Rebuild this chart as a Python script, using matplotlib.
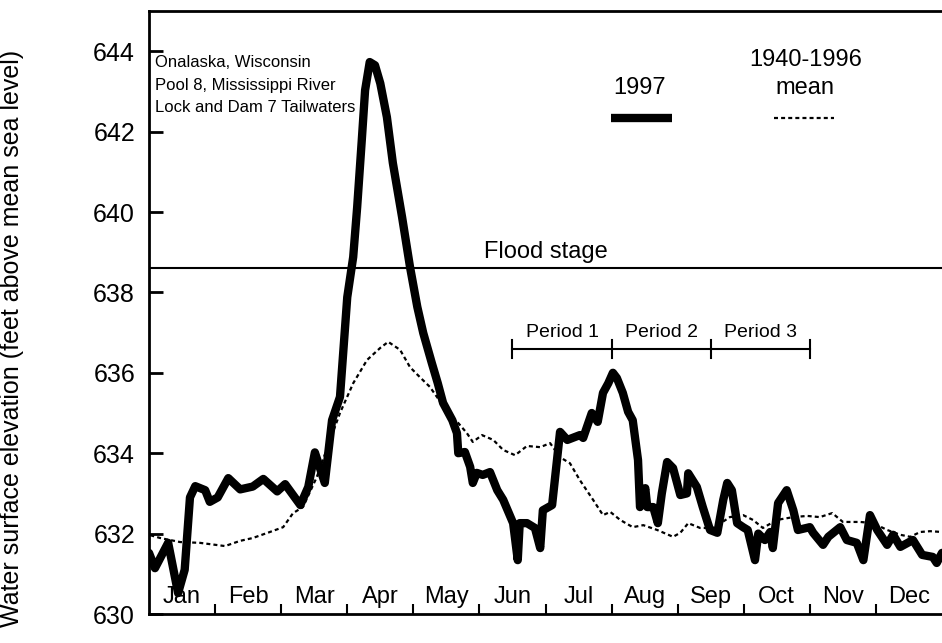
import matplotlib
matplotlib.use("Agg")
import matplotlib.pyplot as plt

plt.rcParams['font.family'] = ['Liberation Sans', 'DejaVu Sans']

# x in months from 1 Jan (equal-width months), y in feet above msl
x_1997 = [0.0, 0.09, 0.29, 0.44, 0.54, 0.62, 0.70, 0.85, 0.92, 1.04, 1.20, 1.38, 1.57, 1.73,
          1.94, 2.06, 2.29, 2.41, 2.51, 2.66, 2.77, 2.89, 3.00, 3.09, 3.15, 3.22, 3.27, 3.34,
          3.42, 3.50, 3.60, 3.69, 3.83, 3.95, 4.06, 4.15, 4.28, 4.37, 4.45, 4.59, 4.66, 4.68,
          4.78, 4.86, 4.90, 4.96, 5.05, 5.16, 5.27, 5.36, 5.51, 5.58, 5.61, 5.72, 5.84, 5.92,
          5.96, 6.10, 6.22, 6.33, 6.52, 6.57, 6.70, 6.79, 6.87, 6.95, 7.02, 7.08, 7.17, 7.25,
          7.32, 7.40, 7.43, 7.51, 7.54, 7.63, 7.70, 7.76, 7.84, 7.93, 8.04, 8.14, 8.16, 8.29,
          8.38, 8.49, 8.60, 8.69, 8.75, 8.82, 8.90, 8.99, 9.06, 9.17, 9.22, 9.32, 9.40, 9.44,
          9.52, 9.65, 9.75, 9.82, 10.00, 10.05, 10.20, 10.28, 10.46, 10.56, 10.71, 10.81,
          10.91, 11.02, 11.17, 11.26, 11.37, 11.56, 11.70, 11.86, 11.92, 12.00]
y_1997 = [631.52, 631.14, 631.77, 630.52, 631.10, 632.90, 633.18, 633.08, 632.79, 632.90,
          633.38, 633.10, 633.17, 633.36, 633.05, 633.23, 632.71, 633.16, 634.02, 633.26,
          634.82, 635.40, 637.88, 638.88, 640.12, 641.79, 643.03, 643.73, 643.65, 643.20,
          642.36, 641.22, 639.87, 638.63, 637.64, 636.99, 636.24, 635.74, 635.25, 634.82,
          634.50, 634.00, 634.03, 633.66, 633.26, 633.51, 633.46, 633.53, 633.08, 632.84,
          632.26, 631.34, 632.26, 632.26, 632.14, 631.64, 632.58, 632.71, 634.53, 634.33,
          634.45, 634.38, 635.00, 634.78, 635.50, 635.74, 636.00, 635.87, 635.50, 635.03,
          634.82, 633.83, 632.66, 633.13, 632.66, 632.66, 632.26, 633.00, 633.78, 633.63,
          632.96, 633.00, 633.50, 633.16, 632.66, 632.09, 632.02, 632.84, 633.26, 633.08,
          632.26, 632.16, 632.09, 631.34, 632.00, 631.84, 632.04, 631.64, 632.76, 633.08,
          632.58, 632.09, 632.16, 632.02, 631.72, 631.92, 632.16, 631.84, 631.77, 631.34,
          632.46, 632.09, 631.72, 631.97, 631.67, 631.84, 631.47, 631.42, 631.27, 631.52]

x_mean = [0.02, 0.17, 0.47, 0.77, 1.15, 1.38, 1.57, 1.83, 2.03, 2.18, 2.33, 2.54, 2.74, 2.89,
          3.09, 3.30, 3.50, 3.62, 3.80, 3.95, 4.10, 4.25, 4.37, 4.51, 4.68, 4.81, 4.90, 5.04,
          5.21, 5.36, 5.54, 5.72, 5.92, 6.07, 6.22, 6.37, 6.52, 6.72, 6.87, 6.98, 7.13, 7.32,
          7.48, 7.69, 7.93, 8.04, 8.16, 8.34, 8.54, 8.79, 8.99, 9.14, 9.29, 9.50, 9.75, 9.96,
          10.15, 10.34, 10.50, 10.76, 10.96, 11.17, 11.37, 11.52, 11.67, 11.82, 12.00]
y_mean = [631.96, 631.89, 631.79, 631.77, 631.69, 631.82, 631.89, 632.04, 632.16, 632.51,
          632.66, 633.41, 634.33, 635.00, 635.74, 636.32, 636.62, 636.77, 636.57, 636.14,
          635.89, 635.65, 635.37, 635.00, 634.75, 634.50, 634.28, 634.45, 634.33, 634.08,
          633.95, 634.18, 634.15, 634.25, 633.90, 633.75, 633.33, 632.84, 632.46, 632.54,
          632.34, 632.16, 632.21, 632.09, 631.92, 632.02, 632.26, 632.14, 632.14, 632.41,
          632.46, 632.34, 632.14, 632.34, 632.41, 632.44, 632.41, 632.51, 632.29, 632.29,
          632.26, 632.09, 631.97, 631.92, 632.04, 632.06, 632.04]

months = ['Jan', 'Feb', 'Mar', 'Apr', 'May', 'Jun', 'Jul', 'Aug', 'Sep', 'Oct', 'Nov', 'Dec']
flood_stage = 638.6
period_edges = [5.5, 7.0, 8.5, 10.0]
period_labels = ['Period 1', 'Period 2', 'Period 3']
site_lines = ['Onalaska, Wisconsin', 'Pool 8, Mississippi River', 'Lock and Dam 7 Tailwaters']

fig = plt.figure(figsize=(9.42, 6.43), dpi=100)
ax = fig.add_axes([149 / 942, 1 - 614 / 643, 793 / 942, 603 / 643])

ax.plot(x_1997, y_1997, color='black', lw=6, solid_joinstyle='round', solid_capstyle='round')
ax.plot(x_mean, y_mean, color='black', lw=1.6, linestyle=(0, (1.8, 1.4)))
ax.axhline(flood_stage, color='black', lw=1.5)
ax.text(6.0, flood_stage + 0.12, 'Flood stage', ha='center', va='bottom', fontsize=17)

# period bar
pb = 636.6
ax.plot([period_edges[0], period_edges[-1]], [pb, pb], color='black', lw=1.5)
for e in period_edges:
    ax.plot([e, e], [pb - 0.22, pb + 0.22], color='black', lw=1.5)
for i, lab in enumerate(period_labels):
    ax.text((period_edges[i] + period_edges[i + 1]) / 2, pb + 0.4, lab,
            ha='center', va='center', fontsize=14)

# site info
for i, s in enumerate(site_lines):
    ax.text(0.09, 643.71 - i * 0.56, s, ha='left', va='center', fontsize=12)

# hand-made legend
ax.text(7.42, 643.08, '1997', ha='center', va='center', fontsize=17)
ax.plot([6.99, 7.91], [642.34, 642.34], color='black', lw=6, solid_capstyle='butt')
ax.text(9.93, 643.78, '1940-1996', ha='center', va='center', fontsize=17)
ax.text(9.93, 643.08, 'mean', ha='center', va='center', fontsize=17)
ax.plot([9.46, 10.37], [642.34, 642.34], color='black', lw=1.6, linestyle=(0, (1.8, 1.4)))

# month names inside the axes
for i, m in enumerate(months):
    ax.text(i + 0.5, 630.42, m, ha='center', va='center', fontsize=17)

ax.set_xlim(0, 12)
ax.set_ylim(630, 645)
ax.set_xticks(range(1, 12))
ax.set_xticklabels([])
ax.set_yticks(range(630, 645, 2))
ax.tick_params(axis='y', direction='in', length=10, width=2, labelsize=18, pad=10)
ax.tick_params(axis='x', direction='in', length=7, width=1.5)
ax.spines['right'].set_visible(False)
for s in ['left', 'top', 'bottom']:
    ax.spines[s].set_linewidth(2)

fig.text(12 / 942, 1 - 50 / 643, 'Water surface elevation (feet above mean sea level)',
         rotation=90, ha='center', va='top', fontsize=18)

fig.savefig('out.png', dpi=100)
